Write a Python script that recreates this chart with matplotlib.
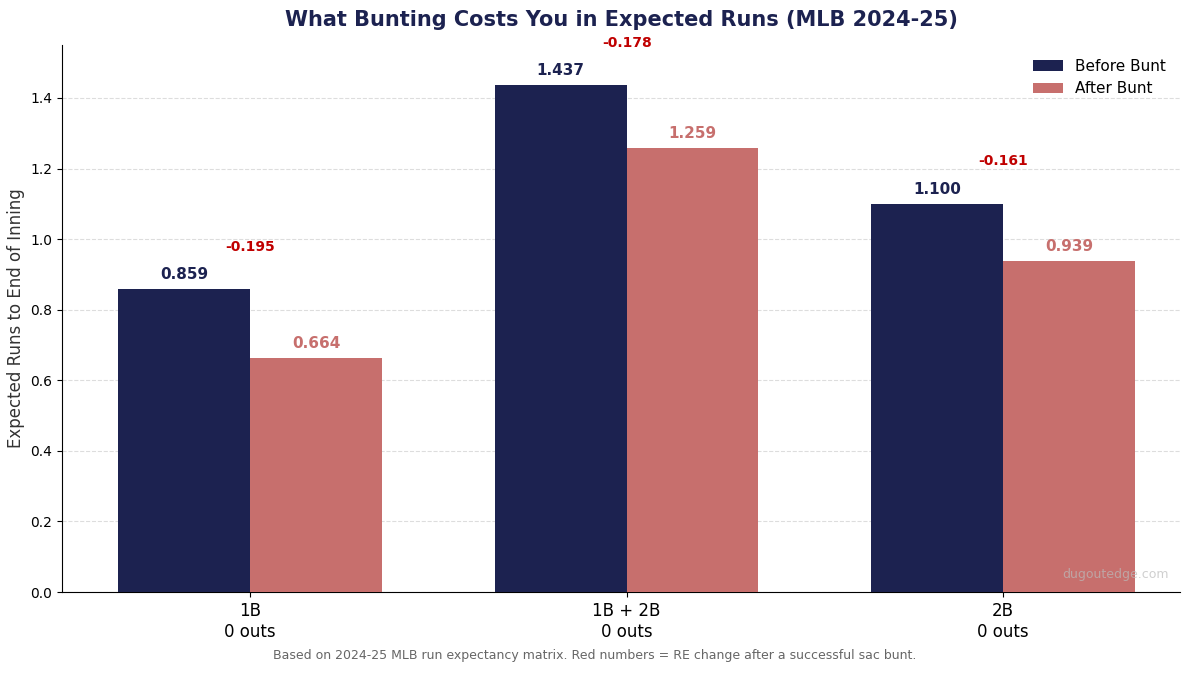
import matplotlib
matplotlib.use("Agg")
import matplotlib.pyplot as plt
import numpy as np

categories = ["1B\n0 outs", "1B + 2B\n0 outs", "2B\n0 outs"]
before = [0.859, 1.437, 1.100]
after = [0.664, 1.259, 0.939]
deltas = ["-0.195", "-0.178", "-0.161"]

navy = "#1c2250"
red = "#c76f6d"
fig = plt.figure(figsize=(11.89, 6.76), dpi=100)
ax = fig.add_axes([62/1189, 84/676, 1118/1189, 547/676])
x = np.arange(len(categories))
w = 0.35
b1 = ax.bar(x - w/2, before, w, color=navy, label="Before Bunt", zorder=3)
b2 = ax.bar(x + w/2, after, w, color=red, label="After Bunt", zorder=3)
for xi, v in zip(x, before):
    ax.text(xi - w/2, v + 0.02, f"{v:.3f}", ha="center", va="bottom", color=navy, fontsize=11, fontweight="bold")
for xi, v in zip(x, after):
    ax.text(xi + w/2, v + 0.02, f"{v:.3f}", ha="center", va="bottom", color=red, fontsize=11, fontweight="bold")
for xi, v, d in zip(x, before, deltas):
    ax.text(xi, v + 0.12, d, ha="center", va="center", color="#c00000", fontsize=10, fontweight="bold")
ax.set_ylim(0, 1.55)
ax.set_xlim(-0.5, 2.47)
ax.set_xticks(x)
ax.set_xticklabels(categories, fontsize=12)
ax.set_yticks(np.arange(0, 1.41, 0.2))
ax.yaxis.grid(True, linestyle="--", color="#dddddd", zorder=0)
ax.spines["top"].set_visible(False)
ax.spines["right"].set_visible(False)
ax.set_ylabel("Expected Runs to End of Inning", fontsize=12, color="#333333")
ax.set_title("What Bunting Costs You in Expected Runs (MLB 2024-25)", fontsize=15, fontweight="bold", color=navy, pad=14)
ax.legend(loc="upper right", frameon=False, fontsize=11)
ax.text(0.99, 0.02, "dugoutedge.com", transform=ax.transAxes, ha="right", va="bottom", color="#bbbbbb", alpha=0.7, fontsize=9)
fig.text(0.5, 0.025, "Based on 2024-25 MLB run expectancy matrix. Red numbers = RE change after a successful sac bunt.", ha="center", fontsize=9, color="#666666")
fig.savefig("out.png", dpi=100)
